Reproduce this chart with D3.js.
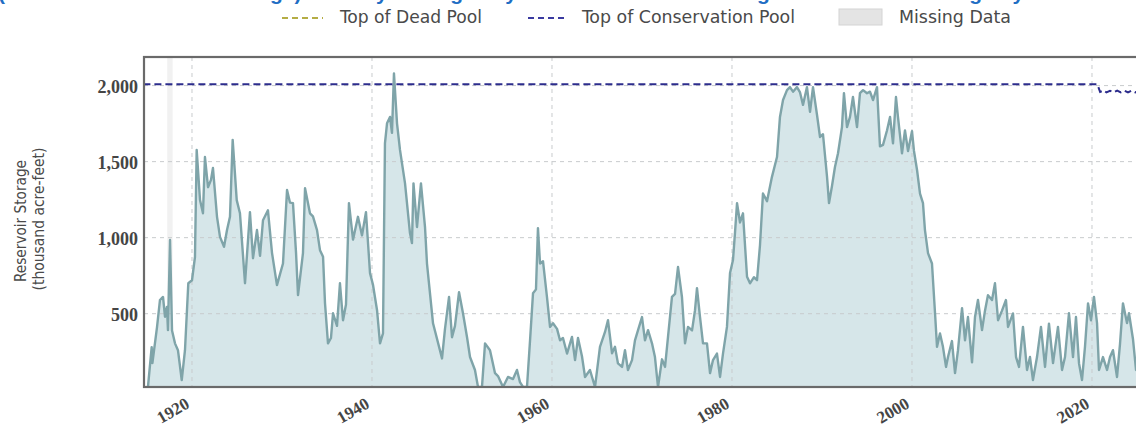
<!DOCTYPE html>
<html>
<head>
<meta charset="utf-8">
<script src="https://cdn.jsdelivr.net/npm/d3@7"></script>
<style>
  html, body { margin: 0; padding: 0; background: #ffffff; overflow: hidden; }
  svg { display: block; }
</style>
</head>
<body>
<svg id="chart" width="1136" height="429"></svg>
<script>
// Monthly reservoir storage, thousand acre-feet, keyed by decimal year
const storageYears = [
  1915.11, 1915.52, 1915.6, 1916.11, 1916.44, 1916.78, 1917.0, 1917.22, 1917.33, 1917.56,
  1917.78, 1918.11, 1918.44, 1918.86, 1919.22, 1919.59, 1920.0, 1920.33, 1920.52, 1920.89,
  1921.22, 1921.44, 1921.78, 1922.11, 1922.33, 1922.78, 1923.11, 1923.56, 1923.89, 1924.22,
  1924.52, 1924.97, 1925.33, 1925.89, 1926.44, 1926.78, 1927.22, 1927.56, 1927.89, 1928.44,
  1928.89, 1929.44, 1929.78, 1930.11, 1930.56, 1930.89, 1931.22, 1931.56, 1931.78, 1932.33,
  1932.56, 1933.11, 1933.44, 1933.89, 1934.22, 1934.56, 1934.78, 1935.11, 1935.44, 1935.67,
  1936.11, 1936.44, 1936.78, 1937.11, 1937.44, 1937.89, 1938.44, 1938.89, 1939.33, 1939.78,
  1940.11, 1940.56, 1940.89, 1941.22, 1941.44, 1941.67, 1942.0, 1942.22, 1942.44, 1942.78,
  1943.11, 1943.67, 1944.22, 1944.44, 1944.61, 1945.0, 1945.44, 1945.89, 1946.11, 1946.78,
  1947.78, 1948.11, 1948.56, 1948.89, 1949.22, 1949.67, 1950.11, 1950.56, 1950.89, 1951.44,
  1951.78, 1952.22, 1952.56, 1953.11, 1953.67, 1954.0, 1954.56, 1955.11, 1955.67, 1956.11,
  1956.44, 1956.78, 1957.22, 1957.56, 1957.89, 1958.22, 1958.44, 1958.67, 1959.0, 1959.44,
  1959.78, 1960.11, 1960.56, 1960.89, 1961.22, 1961.67, 1962.22, 1962.56, 1962.89, 1963.33,
  1963.67, 1964.22, 1964.78, 1965.33, 1965.89, 1966.22, 1966.67, 1967.0, 1967.33, 1967.78,
  1968.11, 1968.44, 1968.89, 1969.22, 1969.56, 1970.0, 1970.33, 1970.67, 1971.11, 1971.44,
  1971.78, 1972.22, 1972.56, 1972.89, 1973.33, 1973.67, 1974.0, 1974.44, 1974.78, 1975.11,
  1975.56, 1975.89, 1976.11, 1976.44, 1976.78, 1977.22, 1977.56, 1977.89, 1978.33, 1978.67,
  1979.0, 1979.44, 1979.78, 1980.11, 1980.33, 1980.56, 1980.89, 1981.22, 1981.67, 1982.0,
  1982.44, 1982.78, 1983.11, 1983.44, 1983.89, 1984.44, 1985.0, 1985.33, 1985.67, 1986.11,
  1986.44, 1986.78, 1987.22, 1987.56, 1987.89, 1988.33, 1988.67, 1989.0, 1989.44, 1989.78,
  1990.11, 1990.56, 1990.78, 1991.11, 1991.44, 1991.78, 1992.22, 1992.44, 1992.78, 1993.11,
  1993.44, 1993.89, 1994.22, 1994.56, 1995.0, 1995.33, 1995.67, 1996.11, 1996.44, 1996.78,
  1997.22, 1997.56, 1997.89, 1998.22, 1998.44, 1998.89, 1999.22, 1999.56, 2000.0, 2000.22,
  2000.56, 2000.89, 2001.22, 2001.44, 2001.78, 2002.22, 2002.56, 2002.78, 2003.11, 2003.44,
  2003.78, 2004.0, 2004.44, 2004.78, 2005.11, 2005.56, 2005.89, 2006.22, 2006.67, 2007.0,
  2007.33, 2007.78, 2008.11, 2008.44, 2008.89, 2009.22, 2009.56, 2010.0, 2010.44, 2010.67,
  2011.22, 2011.56, 2011.89, 2012.33, 2012.78, 2013.11, 2013.44, 2013.89, 2014.33, 2014.78,
  2015.22, 2015.67, 2016.22, 2016.67, 2017.0, 2017.44, 2017.89, 2018.22, 2018.56, 2018.89,
  2019.22, 2019.56, 2019.89, 2020.22, 2020.56, 2020.78, 2021.22, 2021.67, 2022.0, 2022.33,
  2022.78, 2023.11, 2023.44, 2023.89, 2024.11, 2024.56, 2024.89, 2025.3
];
const storageValues = [
  20, 280, 175, 410, 590, 610, 480, 545, 392, 985,
  390, 305, 260, 64, 260, 700, 720, 873, 1577, 1247,
  1160, 1530, 1332, 1380, 1458, 1137, 1005, 940, 1050, 1137,
  1643, 1247, 1160, 700, 1168, 865, 1050, 880, 1115, 1180,
  900, 688, 760, 830, 1313, 1230, 1227, 900, 622, 898,
  1325, 1160, 1140, 1050, 918, 875, 568, 305, 340, 503,
  420, 700, 457, 560, 1227, 987, 1137, 1015, 1168, 767,
  690, 523, 305, 370, 1620, 1752, 1794, 1689, 2080, 1752,
  1577, 1357, 1030, 964, 1357, 1070, 1357, 1070, 830, 437,
  206, 400, 610, 345, 420, 641, 503, 345, 215, 130,
  5, 5, 305, 260, 109, 90, 10, 84, 70, 130,
  50, 5, 15, 325, 634, 660, 1063, 830, 845, 610,
  413, 437, 400, 325, 340, 238, 347, 195, 340, 220,
  84, 130, 15, 282, 380, 457, 240, 282, 173, 150,
  260, 130, 195, 325, 392, 478, 325, 392, 305, 215,
  5, 200, 150, 347, 610, 630, 807, 610, 305, 413,
  390, 523, 668, 480, 305, 305, 109, 195, 238, 84,
  238, 413, 767, 853, 1030, 1227, 1100, 1160, 743, 700,
  740, 720, 950, 1290, 1240, 1400, 1530, 1794, 1905, 1970,
  1990, 1960, 1990, 1955, 1873, 1990, 1827, 1990, 1810, 1662,
  1680, 1400, 1227, 1340, 1465, 1555, 1727, 1950, 1727, 1794,
  1925, 1727, 1950, 1970, 1950, 1960, 1905, 1990, 1600, 1610,
  1705, 1794, 1620, 1925, 1794, 1555, 1705, 1570, 1700, 1570,
  1445, 1290, 1227, 1050, 898, 830, 503, 282, 370, 282,
  150, 215, 320, 109, 260, 536, 325, 478, 180, 478,
  590, 392, 520, 622, 590, 700, 457, 520, 590, 413,
  502, 215, 150, 413, 130, 215, 64, 215, 413, 150,
  435, 175, 413, 130, 215, 503, 215, 478, 173, 64,
  282, 568, 457, 610, 438, 130, 215, 130, 215, 260,
  84, 300, 568, 438, 503, 330, 130, 260
];

// Top of conservation pool, thousand acre-feet
const conservationYears  = [1914.6, 2020.6, 2020.9, 2021.3, 2021.6, 2022.0, 2022.4, 2022.8, 2023.2, 2023.6, 2024.0, 2024.4, 2024.8, 2025.2, 2026.0];
const conservationValues = [2009, 2009, 1958, 1968, 1955, 1966, 1955, 1967, 1955, 1967, 1955, 1967, 1955, 1965, 1960];

// Gaps in the record (decimal years)
const missingSpans = [[1917.25, 1917.85]];

const xTicks = [1920, 1940, 1960, 1980, 2000, 2020];
const yTicks = [500, 1000, 1500, 2000];

const legendLabels = ["Top of Dead Pool", "Top of Conservation Pool", "Missing Data"];
const titleText = "(Combined Reservoir Storage) Monthly Averages by Year and Historical Range of Reservoir Storage by Month";
const yTitle = ["Reservoir Storage", "(thousand acre-feet)"];

// ---------------------------------------------------------------
const svg = d3.select("#chart");
const plot = { left: 144, top: 57, right: 1146, bottom: 387 };

const x = d3.scaleLinear().domain([1914.667, 2026]).range([plot.left, plot.right]);
const y = d3.scaleLinear().domain([18, 2188]).range([plot.bottom, plot.top]);

const serif = "'Liberation Serif', 'DejaVu Serif', serif";
const narrow = "'Liberation Sans Narrow', 'DejaVu Sans Condensed', 'Liberation Sans', sans-serif";

// Title (runs off the top edge)
svg.append("text")
  .attr("x", -2).attr("y", 0)
  .attr("font-family", "'Liberation Sans', Arial, sans-serif")
  .attr("font-weight", "bold")
  .attr("font-size", 21)
  .attr("fill", "#1f6ec4")
  .text(titleText);

// Legend
const legend = svg.append("g").attr("font-family", narrow).attr("font-size", 17).attr("fill", "#4a4a4a");
legend.append("line").attr("x1", 282).attr("x2", 323).attr("y1", 18).attr("y2", 18)
  .attr("stroke", "#b5ad45").attr("stroke-width", 2).attr("stroke-dasharray", "6,4");
legend.append("text").attr("x", 340).attr("y", 23).attr("textLength", 142)
  .attr("lengthAdjust", "spacingAndGlyphs").text(legendLabels[0]);
legend.append("line").attr("x1", 528).attr("x2", 566).attr("y1", 18).attr("y2", 18)
  .attr("stroke", "#3a3aa0").attr("stroke-width", 2).attr("stroke-dasharray", "6,4");
legend.append("text").attr("x", 582).attr("y", 23).attr("textLength", 213)
  .attr("lengthAdjust", "spacingAndGlyphs").text(legendLabels[1]);
legend.append("rect").attr("x", 839).attr("y", 9).attr("width", 43).attr("height", 16)
  .attr("fill", "#e4e4e4").attr("stroke", "#d4d4d4");
legend.append("text").attr("x", 899).attr("y", 23).attr("textLength", 112)
  .attr("lengthAdjust", "spacingAndGlyphs").text(legendLabels[2]);

// Clip region for the plot
svg.append("defs").append("clipPath").attr("id", "plotClip")
  .append("rect").attr("x", plot.left).attr("y", plot.top)
  .attr("width", plot.right - plot.left).attr("height", plot.bottom - plot.top);

const body = svg.append("g").attr("clip-path", "url(#plotClip)");

// Missing data bands
body.selectAll("rect.missing").data(missingSpans).join("rect")
  .attr("class", "missing")
  .attr("x", d => x(d[0])).attr("width", d => x(d[1]) - x(d[0]))
  .attr("y", plot.top).attr("height", plot.bottom - plot.top)
  .attr("fill", "#f1f1f1");

const series = storageYears.map((yr, i) => [yr, storageValues[i]]);
const yv = v => y(Math.max(v, 18));

// Filled storage area
body.append("path").datum(series)
  .attr("fill", "#d6e6e9")
  .attr("d", d3.area().x(d => x(d[0])).y0(plot.bottom).y1(d => yv(d[1])));

// Grid lines
const grid = body.append("g").attr("stroke", "#c8cbcd").attr("stroke-width", 1).attr("stroke-dasharray", "4,4");
grid.selectAll("line.gx").data(xTicks).join("line").attr("class", "gx")
  .attr("x1", d => x(d)).attr("x2", d => x(d)).attr("y1", plot.top).attr("y2", plot.bottom);
grid.selectAll("line.gy").data(yTicks).join("line").attr("class", "gy")
  .attr("x1", plot.left).attr("x2", plot.right).attr("y1", d => y(d)).attr("y2", d => y(d));

// Storage line
body.append("path").datum(series)
  .attr("fill", "none")
  .attr("stroke", "#7fa4a9")
  .attr("stroke-width", 2.4)
  .attr("stroke-linejoin", "round")
  .attr("d", d3.line().x(d => x(d[0])).y(d => yv(d[1])));

// Top of conservation pool
const cons = conservationYears.map((yr, i) => [yr, conservationValues[i]]);
body.append("path").datum(cons)
  .attr("fill", "none")
  .attr("stroke", "#2c2c8c")
  .attr("stroke-width", 2)
  .attr("stroke-dasharray", "7,4")
  .attr("d", d3.line().x(d => x(d[0])).y(d => y(d[1])));

// Frame
svg.append("rect")
  .attr("x", plot.left).attr("y", plot.top)
  .attr("width", plot.right - plot.left).attr("height", plot.bottom - plot.top)
  .attr("fill", "none").attr("stroke", "#6a6a6a").attr("stroke-width", 2.2);

// Y axis labels
const yAxis = svg.append("g")
  .attr("transform", `translate(${plot.left},0)`)
  .call(d3.axisLeft(y).tickValues(yTicks).tickFormat(d3.format(",")).tickSize(0).tickPadding(6));
yAxis.select(".domain").remove();
yAxis.selectAll("text")
  .attr("font-family", serif).attr("font-size", 18).attr("font-weight", "bold")
  .attr("fill", "#454545").attr("dy", "0.38em");

// X axis labels
const xAxis = svg.append("g")
  .attr("transform", `translate(0,${plot.bottom})`)
  .call(d3.axisBottom(x).tickValues(xTicks).tickFormat(d3.format("d")).tickSize(0).tickPadding(0));
xAxis.select(".domain").remove();
xAxis.selectAll("text")
  .attr("font-family", serif).attr("font-size", 17).attr("font-weight", "bold").attr("fill", "#454545")
  .attr("text-anchor", "end")
  .attr("dy", 0).attr("y", 0)
  .attr("transform", "translate(-2,20) rotate(-30)");

// Y axis title
const yt = svg.append("g").attr("font-family", narrow).attr("font-size", 16).attr("fill", "#4a4a4a")
  .attr("text-anchor", "middle");
yt.append("text").attr("transform", "translate(26,221) rotate(-90)")
  .attr("textLength", 122).attr("lengthAdjust", "spacingAndGlyphs").text(yTitle[0]);
yt.append("text").attr("transform", "translate(44,219) rotate(-90)")
  .attr("textLength", 143).attr("lengthAdjust", "spacingAndGlyphs").text(yTitle[1]);
</script>
</body>
</html>
